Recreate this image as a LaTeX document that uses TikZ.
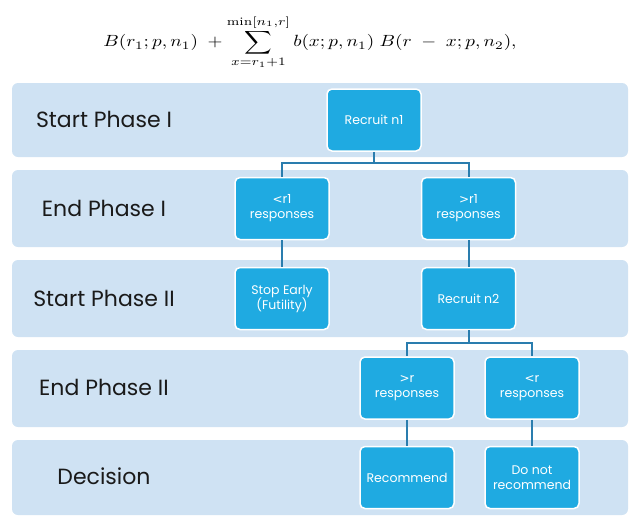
\documentclass[tikz,border=0pt]{standalone}
\usepackage{amsmath}
\usepackage{fontspec}
\newfontfamily\lblfont{Poppins}
\newfontfamily\symfont{DejaVu Sans}
\newcommand{\lesssym}{{\symfont\fontsize{12}{12}\selectfont<}}
\newcommand{\moresym}{{\symfont\fontsize{12}{12}\selectfont>}}
\definecolor{bandfill}{HTML}{CFE2F3}
\definecolor{boxfill}{HTML}{1FAAE1}
\definecolor{linkcol}{HTML}{2A7DAE}
\definecolor{lbltext}{HTML}{1A1A1A}
\begin{document}
\begin{tikzpicture}[x=1pt,y=-1pt,
  band/.style={fill=bandfill,draw=none,rounded corners=6pt},
  phaselabel/.style={text=lbltext,font=\lblfont\fontsize{22}{26}\selectfont,anchor=center},
  stepbox/.style={fill=boxfill,draw=white,line width=1.5pt,rounded corners=5pt,
    minimum width=94pt,minimum height=62pt,text=white,align=center,
    font=\lblfont\fontsize{12.5}{15}\selectfont,inner sep=2pt},
  link/.style={draw=linkcol,line width=2pt}]
\useasboundingbox (0,0) rectangle (644,528);
% formula
\node (formula) at (310,42) {\scalebox{1.92}[1.62]{$\displaystyle B(r_1;p,n_1)\;+\sum_{x=r_1+1}^{\min[n_1,r]} b(x;p,n_1)\;B(r\;-\;x;p,n_2),$}};
% bands
\path[band] (12,83) rectangle (628,157);
\path[band] (12,170) rectangle (628,247);
\path[band] (12,260) rectangle (628,337);
\path[band] (12,350) rectangle (628,427);
\path[band] (12,440) rectangle (628,515);
% labels
\node[phaselabel] (l1) at (104,119) {Start Phase I};
\node[phaselabel] (l2) at (104,208) {End Phase I};
\node[phaselabel] (l3) at (104,298) {Start Phase II};
\node[phaselabel] (l4) at (104,387) {End Phase II};
\node[phaselabel] (l5) at (104,476) {Decision};
% boxes
\node[stepbox] (rn1) at (374,120) {Recruit n1};
\node[stepbox] (lr1) at (282,208.5) {\lesssym r1\\responses};
\node[stepbox] (gr1) at (468.5,208.5) {\moresym r1\\responses};
\node[stepbox] (stop) at (282,298.5) {Stop Early\\(Futility)};
\node[stepbox] (rn2) at (468.5,298.5) {Recruit n2};
\node[stepbox] (gr) at (407,388) {\moresym r\\responses};
\node[stepbox] (lr) at (532,388) {\lesssym r\\responses};
\node[stepbox] (rec) at (407,477.5) {Recommend};
\node[stepbox] (dnr) at (532,477.5) {Do not\\recommend};
% connectors
\coordinate (j1) at (374,163);
\coordinate (j2) at (468.5,343);
\draw[link] (rn1) -- (j1);
\draw[link] (j1) -| (lr1);
\draw[link] (j1) -| (gr1);
\draw[link] (lr1) -- (stop);
\draw[link] (gr1) -- (rn2);
\draw[link] (rn2) -- (j2);
\draw[link] (j2) -| (gr);
\draw[link] (j2) -| (lr);
\draw[link] (gr) -- (rec);
\draw[link] (lr) -- (dnr);
\end{tikzpicture}
\end{document}
